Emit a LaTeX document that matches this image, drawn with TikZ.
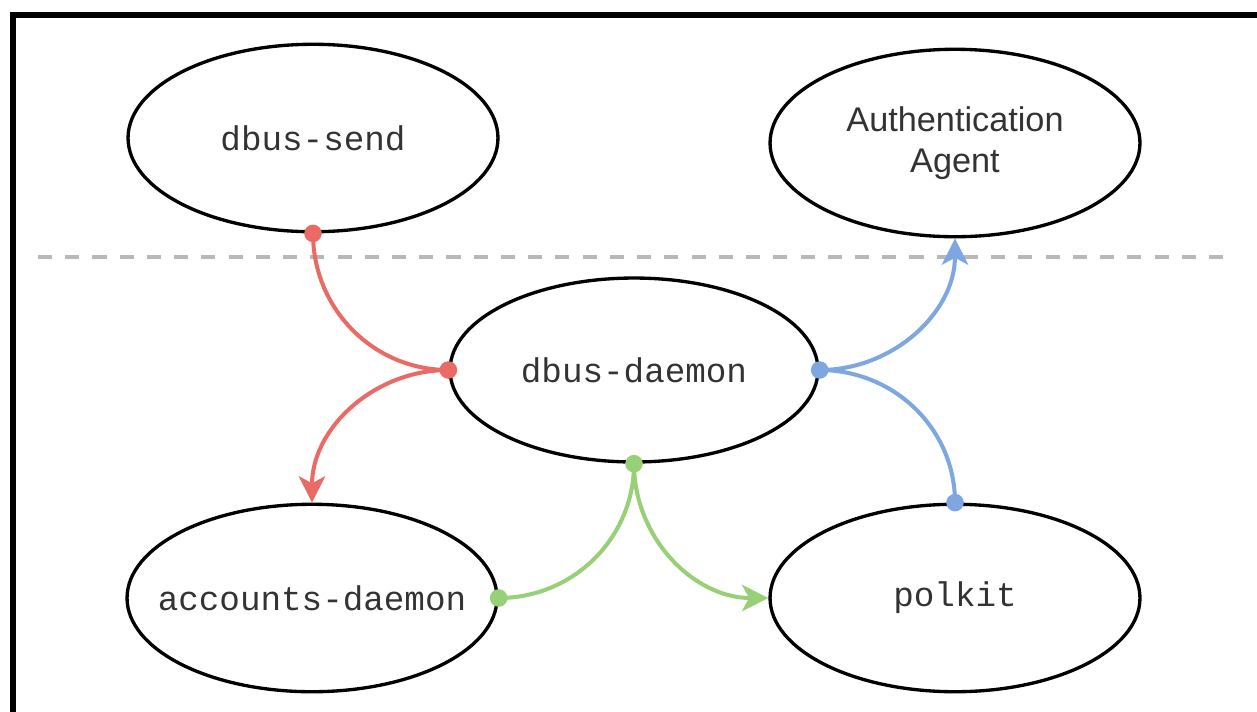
\documentclass[tikz,border=0pt]{standalone}
\usepackage{fontspec}
\setmainfont{Liberation Sans}
\setmonofont{Liberation Mono}
\usetikzlibrary{shapes.geometric,arrows.meta}
\definecolor{redline}{HTML}{EA6B66}
\definecolor{blueline}{HTML}{7EA6E0}
\definecolor{greenline}{HTML}{97D077}
\definecolor{labelgray}{HTML}{333333}

\begin{document}
\begin{tikzpicture}[x=0.02cm,y=-0.02cm,
	proc/.style={ellipse,draw,line width=1.9pt,minimum width=7.4cm,minimum height=3.75cm,
		text=labelgray,align=center,font=\fontsize{19.5}{23}\selectfont\ttfamily},
	joint/.style={circle,fill,inner sep=0,minimum size=10pt},
	msg/.style={line width=2.3pt},
	tip/.style={-{Stealth[length=15pt,width=15pt,inset=4pt]}}]
\useasboundingbox (0,0) rectangle (1257,711);
\clip (0,0) rectangle (1257,711);
% outer frame, cut off on the right and at the bottom
\draw[line width=3.4pt] (13,730) -- (13,15) -- (1270,15);

% separator
\coordinate (sepL) at (38,257);
\coordinate (sepR) at (1232,257);
\draw[color=black!28,line width=1.8pt,dash pattern=on 8pt off 7.5pt] (sepL) -- (sepR);

% processes
\node[proc] (send) at (313,138) {dbus-send};
\node[proc,font=\fontsize{19.5}{23}\selectfont] (agent) at (955,143) {Authentication\\Agent};
\node[proc,minimum width=7.36cm,minimum height=3.68cm] (daemon) at (634,370) {dbus-daemon};
\node[proc] (accounts) at (312,598) {\makebox[0pt]{accounts-daemon}};
\node[proc] (polkit) at (955,598) {polkit};

% dbus-send -> dbus-daemon -> accounts-daemon
\draw[msg,redline] (send.south) to[out=-90,in=180] (daemon.west);
\draw[msg,redline,tip] (daemon.west) to[out=180,in=90] (accounts.north);
\node[joint,redline] at (send.south) {};
\node[joint,redline] at (daemon.west) {};

% polkit -> dbus-daemon -> Authentication Agent
\draw[msg,blueline] (polkit.north) to[out=90,in=0] (daemon.east);
\draw[msg,blueline,tip] (daemon.east) to[out=0,in=-90] (agent.south);
\node[joint,blueline] at (polkit.north) {};
\node[joint,blueline] at (daemon.east) {};

% accounts-daemon -> dbus-daemon -> polkit
\draw[msg,greenline] (accounts.east) to[out=0,in=-90] (daemon.south);
\draw[msg,greenline,tip] (daemon.south) to[out=-90,in=180] (polkit.west);
\node[joint,greenline] at (accounts.east) {};
\node[joint,greenline] at (daemon.south) {};
\end{tikzpicture}
\end{document}
